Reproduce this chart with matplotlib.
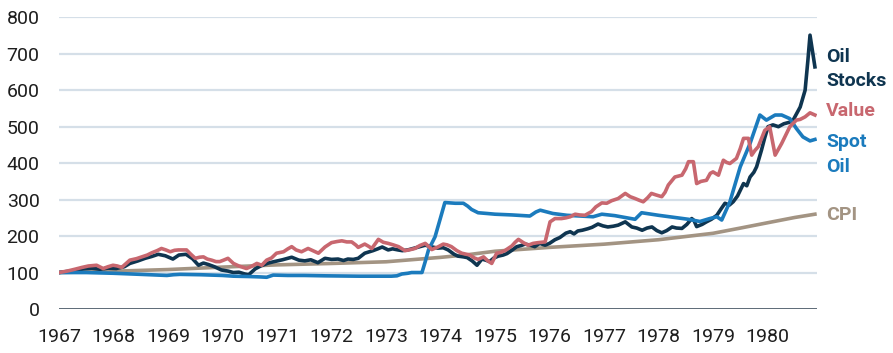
import matplotlib
matplotlib.use("Agg")
import matplotlib.pyplot as plt
import matplotlib.transforms as mtransforms
import numpy as np

plt.rcParams['font.family'] = ['Roboto', 'DejaVu Sans']

# ---- data (time in years after Jan 1967) ----
stocks_t = [0.0, 0.15, 0.3, 0.45, 0.6, 0.75, 0.9, 1.05, 1.2, 1.3, 1.45, 1.58, 1.7, 1.82, 1.95, 2.09, 2.2, 2.33,
            2.45, 2.56, 2.65, 2.74, 2.85, 2.98, 3.1, 3.2, 3.3, 3.41, 3.48, 3.6, 3.7, 3.84, 3.95, 4.1, 4.27, 4.4,
            4.51, 4.62, 4.75, 4.88, 5.0, 5.12, 5.22, 5.3, 5.4, 5.49, 5.61, 5.76, 5.85, 5.93, 6.04, 6.12, 6.22,
            6.3, 6.4, 6.55, 6.72, 6.85, 6.95, 7.05, 7.14, 7.25, 7.32, 7.42, 7.49, 7.58, 7.67, 7.76, 7.85, 7.9,
            7.98, 8.06, 8.15, 8.22, 8.3, 8.4, 8.48, 8.55, 8.65, 8.73, 8.82, 8.92, 9.0, 9.1, 9.19, 9.3, 9.38,
            9.45, 9.52, 9.6, 9.7, 9.78, 9.89, 9.98, 10.07, 10.17, 10.26, 10.39, 10.45, 10.51, 10.6, 10.7, 10.79,
            10.88, 10.97, 11.06, 11.15, 11.25, 11.33, 11.43, 11.52, 11.61, 11.65, 11.7, 11.8, 11.88, 11.97,
            12.07, 12.15, 12.22, 12.3, 12.37, 12.45, 12.56, 12.62, 12.68, 12.75, 12.8, 12.89, 12.95, 13.01,
            13.1, 13.2, 13.3, 13.4, 13.47, 13.55, 13.6, 13.69, 13.74, 13.78, 13.87]
stocks = [100, 103, 106, 110, 112, 109, 112, 111, 116, 125, 132, 139, 144, 150, 146, 137, 148, 150,
          138, 120, 126, 122, 116, 107, 104, 100, 101, 96, 94, 110, 118, 126, 130, 135, 142, 134,
          132, 135, 127, 139, 136, 137, 133, 137, 136, 139, 153, 160, 165, 170, 162, 165, 162,
          160, 162, 168, 175, 170, 167, 168, 162, 150, 145, 143, 141, 132, 120, 137, 133, 130,
          140, 145, 148, 152, 160, 171, 174, 178, 175, 171, 180, 175, 180, 190, 196, 208, 212,
          206, 214, 216, 220, 224, 233, 228, 225, 227, 230, 239, 232, 225, 222, 216, 222,
          225, 215, 209, 215, 225, 222, 221, 232, 248, 243, 226, 232, 239, 246,
          257, 275, 290, 285, 294, 310, 344, 338, 362, 375, 390, 436, 470, 500,
          505, 500, 508, 512, 518, 540, 554, 600, 680, 751, 664]

value_t = [0, 0.15, 0.29, 0.42, 0.54, 0.69, 0.81, 0.9, 0.99, 1.07, 1.15, 1.3, 1.42, 1.52, 1.62, 1.7, 1.8, 1.88,
           1.96, 2.04, 2.12, 2.19, 2.34, 2.42, 2.5, 2.58, 2.65, 2.72, 2.8, 2.88, 2.95, 3.02, 3.1, 3.2, 3.3,
           3.44, 3.52, 3.63, 3.72, 3.81, 3.9, 3.99, 4.12, 4.2, 4.27, 4.35, 4.45, 4.57, 4.66, 4.76, 4.88, 5.0,
           5.1, 5.19, 5.28, 5.37, 5.45, 5.49, 5.61, 5.68, 5.74, 5.86, 5.95, 6.04, 6.13, 6.23, 6.35, 6.45,
           6.53, 6.62, 6.72, 6.78, 6.84, 6.95, 7.05, 7.12, 7.2, 7.3, 7.39, 7.54, 7.62, 7.69, 7.79, 7.86,
           7.94, 8.03, 8.1, 8.18, 8.31, 8.37, 8.43, 8.52, 8.61, 8.7, 8.79, 8.92, 8.97, 9.01, 9.1, 9.22, 9.3,
           9.38, 9.47, 9.55, 9.65, 9.77, 9.85, 9.96, 10.05, 10.14, 10.26, 10.39, 10.48, 10.57, 10.65, 10.72,
           10.8, 10.87, 10.95, 11.06, 11.12, 11.18, 11.3, 11.38, 11.43, 11.5, 11.55, 11.64, 11.7, 11.78,
           11.88, 11.95, 12.0, 12.1, 12.19, 12.25, 12.31, 12.43, 12.5, 12.56, 12.65, 12.71, 12.77, 12.83,
           12.95, 13.04, 13.14, 13.26, 13.41, 13.53, 13.6, 13.69, 13.78, 13.87]
value = [100, 104, 109, 114, 118, 120, 111, 116, 120, 118, 114, 134, 138, 143, 148, 154, 160, 166,
         162, 157, 161, 162, 162, 150, 139, 142, 143, 137, 134, 130, 130, 134, 139, 125, 118,
         111, 116, 125, 120, 134, 140, 153, 157, 165, 171, 162, 157, 166, 160, 153, 170, 182,
         185, 187, 184, 184, 175, 169, 178, 172, 166, 191, 183, 180, 176, 171, 160, 163,
         166, 174, 180, 172, 163, 170, 178, 176, 171, 160, 153, 148, 140, 136, 143, 133,
         125, 153, 155, 160, 173, 183, 191, 182, 175, 180, 182, 184, 215, 239, 248, 248, 250,
         253, 260, 258, 257, 267, 280, 291, 290, 297, 303, 317, 308, 303, 298, 294,
         305, 317, 313, 308, 320, 340, 362, 365, 367, 385, 404, 404, 344, 350,
         353, 372, 376, 367, 408, 402, 399, 413, 440, 468, 468, 422, 435, 445,
         490, 500, 422, 454, 500, 518, 520, 527, 538, 532]

spot_t = [0, 0.5, 0.75, 1.0, 1.5, 1.98, 2.1, 2.22, 2.6, 3.0, 3.2, 3.5, 3.69, 3.81, 3.93, 4.2, 4.5, 4.88,
          5.5, 6.1, 6.2, 6.29, 6.4, 6.47, 6.66, 6.72, 6.78, 6.9, 7.0, 7.08, 7.27, 7.42, 7.5, 7.57, 7.69,
          7.85, 8.0, 8.31, 8.64, 8.75, 8.83, 9.06, 9.32, 9.56, 9.8, 9.96, 10.2, 10.57, 10.69, 11.0, 11.3,
          11.55, 11.76, 11.94, 12.07, 12.16, 12.31, 12.5, 12.68, 12.86, 12.98, 13.14, 13.26, 13.41, 13.53,
          13.65, 13.78, 13.87]
spot = [100, 100, 99, 98, 95, 92, 94, 95, 94, 92, 90, 89, 88, 87, 93, 92, 92, 91,
        90, 90, 91, 96, 98, 100, 100, 130, 162, 198, 250, 292, 290, 290, 282, 273, 264,
        262, 260, 258, 255, 266, 271, 262, 257, 255, 253, 260, 256, 246, 264, 257, 251,
        246, 240, 248, 253, 244, 294, 390, 454, 532, 518, 532, 532, 522, 495,
        472, 461, 465]

cpi_t = [0, 1, 2, 3, 4, 5, 6, 7, 7.5, 8, 9, 10, 11, 12, 12.5, 13, 13.5, 13.87]
cpi = [100, 103.6, 108.2, 114.9, 121.0, 124.9, 129.5, 141.6, 148.9, 158.4, 169.0, 177.8, 190.0,
       207.6, 221.9, 236.5, 251.0, 260.0]

start_year = 1967
years = list(range(1967, 1981))
yticks = [0, 100, 200, 300, 400, 500, 600, 700, 800]

labels = [("Oil\nStocks", 659), ("Value", 542), ("Spot\nOil", 424), ("CPI", 258)]

c_stocks = "#0f3550"
c_value = "#c8676f"
c_spot = "#1b7bbd"
c_cpi = "#a39483"

# ---- figure ----
W, H = 893, 353
fig = plt.figure(figsize=(W / 100, H / 100), dpi=100)
ax = fig.add_axes([59 / W, 1 - 309 / H, (817 - 59) / W, (309 - 17.3) / H])

ax.set_xlim(1967, 1967 + (817 - 59) / 54.5)
ax.set_ylim(0, 800)

for y in yticks[1:]:
    ax.axhline(y, color="#d5dfe8", lw=1.6, zorder=0)
ax.axhline(0, color="#2d3e4e", lw=1.8, zorder=5)

def yrs(t):
    return [start_year + v for v in t]

lw = 2.6
ax.plot(yrs(cpi_t), cpi, color=c_cpi, lw=lw, zorder=2, solid_joinstyle="round")
ax.plot(yrs(stocks_t), stocks, color=c_stocks, lw=lw, zorder=3, solid_joinstyle="round")
ax.plot(yrs(value_t), value, color=c_value, lw=lw, zorder=3.5, solid_joinstyle="round")
ax.plot(yrs(spot_t), spot, color=c_spot, lw=lw, zorder=3.2, solid_joinstyle="round")

for s in ax.spines.values():
    s.set_visible(False)

ax.set_yticks(yticks)
ax.set_yticklabels([str(v) for v in yticks])
ax.set_xticks(years)
ax.set_xticklabels([str(y) for y in years])
ax.tick_params(axis="y", length=0, pad=14, labelsize=14, labelcolor="#1e1e1e")
ax.tick_params(axis="x", length=0, pad=14, labelsize=14, labelcolor="#1e1e1e")

trans = mtransforms.blended_transform_factory(ax.transAxes, ax.transData)
colors = [c_stocks, c_value, c_spot, c_cpi]
for (txt, yv), col in zip(labels, colors):
    ax.text(1.012, yv, txt, transform=trans, color=col, fontsize=14, fontweight="bold",
            va="center", ha="left", linespacing=1.45, clip_on=False)

fig.savefig("out.png", dpi=100)
